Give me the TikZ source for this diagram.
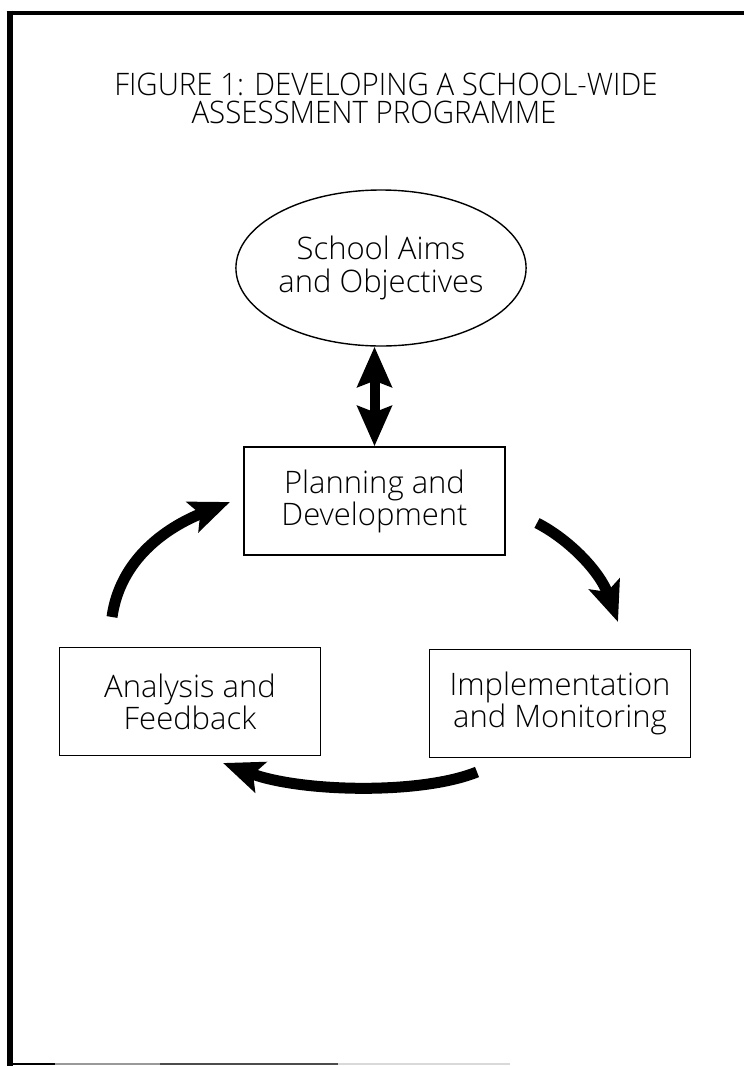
\documentclass[tikz,border=0pt]{standalone}
\usepackage{fontspec}
\setmainfont{Open Sans Light}
\newfontfamily\titlefont[FakeStretch=0.95]{Open Sans Light}
\usetikzlibrary{arrows.meta,shapes.geometric}

\begin{document}
\begin{tikzpicture}[x=1pt,y=-1pt,
  stagebox/.style={draw, line width=1.5pt, minimum width=261pt, minimum height=108pt,
    inner sep=0pt, align=center, font=\fontsize{31}{32}\selectfont},
  aimsnode/.style={draw, ellipse, line width=1.4pt, minimum width=262pt, minimum height=156pt,
    inner sep=0pt, align=center, font=\fontsize{31}{33}\selectfont},
  titleline/.style={anchor=base, inner sep=0pt, font=\titlefont\fontsize{31}{28}\selectfont},
  cyclearrow/.style={line width=11pt, -{Stealth[length=40pt,width=32pt,inset=8pt]}},
  linkarrow/.style={line width=10pt,
    {Stealth[length=40pt,width=34pt,inset=6pt]}-{Stealth[length=40pt,width=34pt,inset=6pt]}}
]
% page
\fill[white] (0,0) rectangle (744,1066);
\useasboundingbox (0,0) rectangle (744,1066);

% frame
\draw[line width=6pt] (9.5,10.5) -- (9.5,1066);
\draw[line width=4pt] (6.5,12.5) -- (744,12.5);
\draw[line width=2pt] (7,1064) -- (55,1064);
\draw[line width=2pt, black!40] (55,1064) -- (160,1064);
\draw[line width=2pt, black!70] (160,1064) -- (338,1064);
\draw[line width=2pt, black!15] (338,1064) -- (510,1064);

% title
\node[titleline] (title1) at (386,95) {FIGURE 1: DEVELOPING A SCHOOL-WIDE};
\node[titleline] (title2) at (374,123) {ASSESSMENT PROGRAMME};

% stages
\node[aimsnode] (aims) at (381,268) {School Aims\\and Objectives};
\node[stagebox] (plan) at (374.5,501) {Planning and\\Development};
\node[stagebox] (anal) at (190,701.5) {Analysis and\\Feedback};
\node[stagebox] (impl) at (560,703.5) {Implementation\\and Monitoring};

% link between aims and planning
\draw[linkarrow] (aims.south -| plan.north) -- (plan.north);

% cycle arrows
\coordinate (a1s) at (112,617);
\coordinate (a1e) at (230,502);
\coordinate (a2s) at (537,523);
\coordinate (a2e) at (618,622);
\coordinate (a3s) at (477,772);
\coordinate (a3e) at (223,763);
\draw[cyclearrow] (a1s) .. controls (120,560) and (165,528) .. (a1e);
\draw[cyclearrow] (a2s) .. controls (570,540) and (600,572) .. (a2e);
\draw[cyclearrow] (a3s) .. controls (420,795) and (300,792) .. (a3e);
\end{tikzpicture}
\end{document}
